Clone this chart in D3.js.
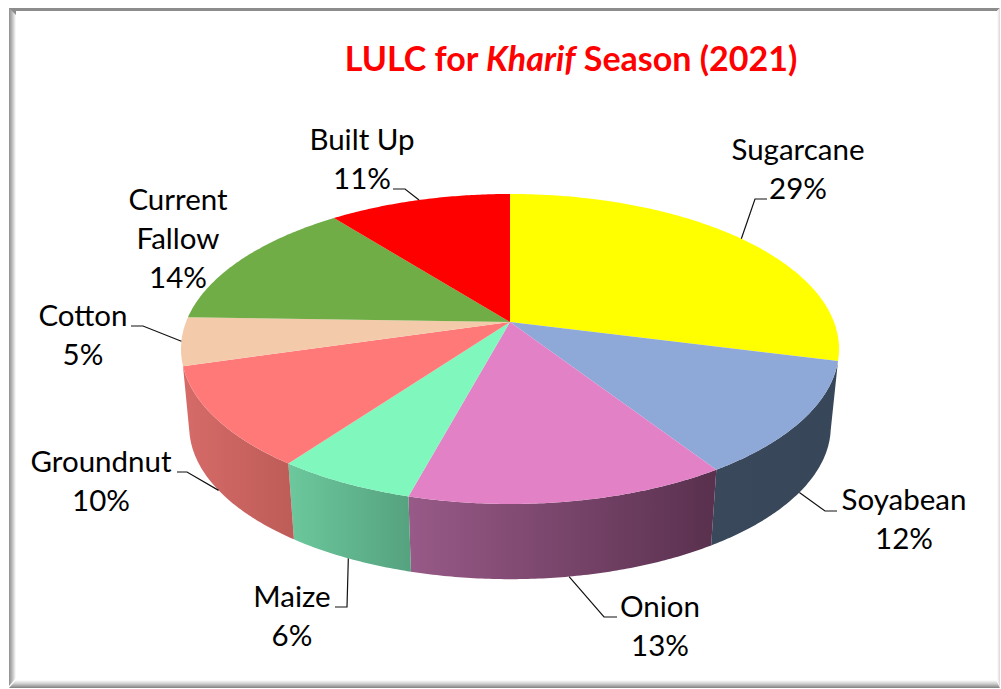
<!DOCTYPE html>
<html><head><meta charset="utf-8">
<script src="https://cdn.jsdelivr.net/npm/d3@7"></script>
<style>html,body{margin:0;padding:0;background:#fff}svg{display:block}text{font-family:Lato,"Open Sans",sans-serif}</style>
</head><body><svg id="c" width="1001" height="689"></svg>
<script>
const categories = ["Sugarcane","Soyabean","Onion","Maize","Groundnut","Cotton","Current Fallow","Built Up"];
const shares = [29,11.85,13.35,5.8,10.49,5.01,13.9,10.6];
const topColors = ["#ffff00","#8ea8d8","#e381c7","#7ff7bd","#ff7979","#f4cbaa","#70ad47","#ff0000"];
const wallLeft = {Soyabean:"#3a485c",Onion:"#985a88",Maize:"#6cc89d",Groundnut:"#d66b68"};
const wallRight = {Soyabean:"#38465a",Onion:"#59304e",Maize:"#55a27f",Groundnut:"#bd5c58"};

// layout, separate from the data
const G = {cx:510, cy:322, R:324, H:150.3, k:0.174, s:0.975, cyB:400, HB:148};
const wallLimit = {Soyabean:[101.5,null], Groundnut:[null,257]};
const labelLayout = {
 "Sugarcane":{x:798,y:[160,199],leader:[[755,199],[767,199]],face:"top"},
 "Soyabean":{x:904,y:[510,549],leader:[[825,511],[837,511]],face:"bottom"},
 "Onion":{x:660,y:[617,656],leader:[[604,617],[617,617]],face:"bottom"},
 "Maize":{x:292,y:[607,646],leader:[[347,607],[335,607]],face:"bottom"},
 "Groundnut":{x:101,y:[472,511],leader:[[187,472],[177,472]],face:"bottom"},
 "Cotton":{x:83,y:[326,365],leader:[[143,326],[131,326]],face:"top"},
 "Current Fallow":{x:178,y:[210,249,288],leader:null},
 "Built Up":{x:362,y:[150,189],leader:[[405,189],[393,189]],face:"top"}
};

const rad = d3.scaleLinear().domain([0,360]).range([0,2*Math.PI]);
const svg = d3.select("#c"), defs = svg.append("defs");

function proj(a, bottom){
  const u=Math.sin(a), v=-Math.cos(a), w=1-G.k*v;
  return bottom ? [G.cx+G.s*G.R*u/w, G.cyB+G.HB*v/w] : [G.cx+G.R*u/w, G.cy+G.H*v/w];
}
function arcPts(a0,a1,bottom){
  const n=Math.max(2,Math.ceil(Math.abs(a1-a0)/0.01));
  return d3.range(n+1).map(i=>proj(a0+(a1-a0)*i/n,bottom));
}
const line=d3.line();

// frame
function grad(id,x1,y1,x2,y2,stops){
  const g=defs.append("linearGradient").attr("id",id).attr("x1",x1).attr("y1",y1).attr("x2",x2).attr("y2",y2);
  stops.forEach(s=>g.append("stop").attr("offset",s[0]).attr("stop-color",s[1]));
}
grad("fL",0,0,1,0,[[0,"#8f8f8f"],[0.4,"#b5b5b5"],[1,"#ffffff"]]);
grad("fT",0,0,0,1,[[0,"#8c8c8c"],[0.5,"#c4c4c4"],[1,"#ffffff"]]);
grad("fB",0,0,0,1,[[0,"#ffffff"],[0.45,"#cfcfcf"],[1,"#808080"]]);
grad("fR",0,0,1,0,[[0,"#ffffff"],[1,"#d8d8d8"]]);
svg.append("rect").attr("x",9).attr("y",8).attr("width",991).attr("height",680).attr("fill","#fff");
svg.append("path").attr("d","M9 8H1000L997 11H16V680L9 688Z").attr("fill","url(#fT)");
svg.append("path").attr("d","M9 8L16 15V678L9 686Z").attr("fill","url(#fL)");
svg.append("path").attr("d","M9 688L16 680H996L1000 688Z").attr("fill","url(#fB)");
svg.append("path").attr("d","M997 11L1000 8V688L997 680Z").attr("fill","url(#fR)");

// pie
const pie=d3.pie().sort(null).value(d=>d.v)(categories.map((c,i)=>({c,v:shares[i],i})));
const total=d3.sum(shares);

// side walls
const wallG=svg.append("g");
pie.filter(p=>wallLeft[p.data.c]).forEach(p=>{
  const c=p.data.c, lim=wallLimit[c]||[null,null];
  const a0=lim[0]!=null?rad(lim[0]):p.startAngle, a1=lim[1]!=null?rad(lim[1]):p.endAngle;
  const top=arcPts(p.startAngle,p.endAngle,false), bot=arcPts(a0,a1,true).reverse();
  const xs=top.concat(bot).map(d=>d[0]);
  const id="w"+p.data.i;
  const g=defs.append("linearGradient").attr("id",id).attr("gradientUnits","userSpaceOnUse")
    .attr("x1",d3.min(xs)).attr("x2",d3.max(xs)).attr("y1",0).attr("y2",0);
  g.append("stop").attr("offset",0).attr("stop-color",wallLeft[c]);
  g.append("stop").attr("offset",1).attr("stop-color",wallRight[c]);
  wallG.append("path").attr("d",line(top.concat(bot))+"Z").attr("fill",`url(#${id})`);
});

// top face
svg.append("g").selectAll("path").data(pie).join("path")
  .attr("d",p=>line([[G.cx,G.cy]].concat(arcPts(p.startAngle,p.endAngle,false)))+"Z")
  .attr("fill",p=>topColors[p.data.i]);

// leaders
pie.forEach(p=>{
  const L=labelLayout[p.data.c]; if(!L||!L.leader) return;
  const lim=wallLimit[p.data.c]||[null,null];
  const a0=lim[0]!=null?rad(lim[0]):p.startAngle, a1=lim[1]!=null?rad(lim[1]):p.endAngle;
  const start=proj(L.face==="bottom"?(a0+a1)/2:(p.startAngle+p.endAngle)/2, L.face==="bottom");
  svg.append("path").attr("d",line([start].concat(L.leader))).attr("fill","none").attr("stroke","#111").attr("stroke-width",1.2);
});

// labels
const LF=29.5;
categories.forEach((c,i)=>{
  const L=labelLayout[c];
  const parts=c==="Current Fallow"?["Current","Fallow"]:[c];
  parts.concat([Math.round(shares[i]/total*100)+"%"]).forEach((t,j)=>{
    svg.append("text").attr("x",L.x).attr("y",L.y[j]).attr("text-anchor","middle")
      .attr("font-size",LF).attr("fill","#000").text(t);
  });
});

// title
const title=svg.append("text").attr("x",571).attr("y",70.5).attr("text-anchor","middle")
  .attr("font-size",34).attr("font-weight",700).attr("fill","#ff0000");
title.append("tspan").text("LULC for ");
title.append("tspan").attr("font-style","italic").text("Kharif");
title.append("tspan").text(" Season (2021)");
</script></body></html>
